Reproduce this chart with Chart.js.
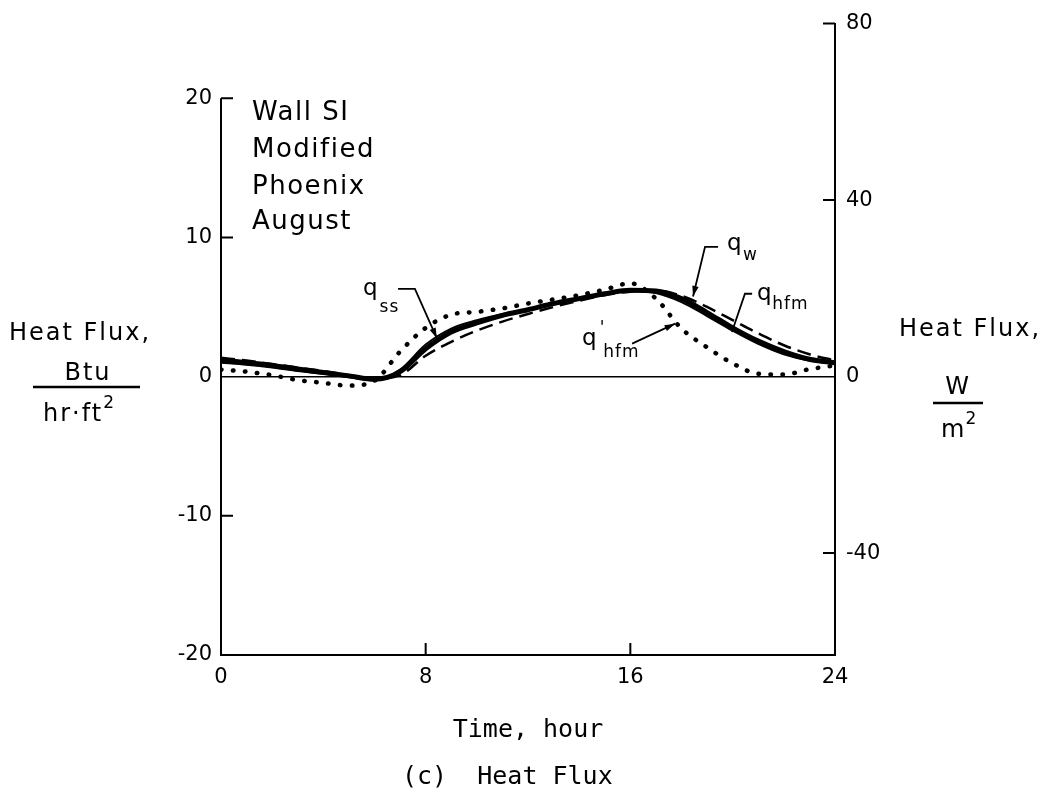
<!DOCTYPE html>
<html lang="en">
<head>
<meta charset="UTF-8">
<title>Heat Flux</title>
<script src="https://cdn.jsdelivr.net/npm/chart.js@4.4.1/dist/chart.umd.min.js"></script>
<style>
  html, body { margin: 0; padding: 0; background: #fff; }
</style>
</head>
<body>
<canvas id="heat-chart" width="1054" height="808"></canvas>

<script>
// time of day, hour
const hours = [0, 1, 2, 3, 4, 5, 6, 7, 8, 9, 10, 11, 12, 13, 14, 15, 16, 17, 18, 19, 20, 21, 22, 23, 24];

// heat flux, Btu/hr.ft2
const qW        = [1.2, 1.0, 0.8, 0.55, 0.3, 0.05, -0.2, 0.35, 2.0, 3.2, 3.85, 4.4, 4.8, 5.25, 5.6, 5.95, 6.2, 6.15, 5.6, 4.6, 3.5, 2.55, 1.8, 1.25, 1.0];
const qSs       = [1.0, 0.85, 0.65, 0.4, 0.2, -0.05, -0.25, 0.5, 2.3, 3.45, 4.05, 4.5, 4.85, 5.2, 5.55, 5.9, 6.15, 6.0, 5.35, 4.35, 3.3, 2.35, 1.6, 1.15, 0.95];
const qHfm      = [1.35, 1.15, 0.9, 0.65, 0.4, 0.1, -0.15, 0.1, 1.5, 2.5, 3.3, 3.95, 4.5, 5.0, 5.45, 5.85, 6.1, 6.2, 5.8, 5.0, 4.05, 3.1, 2.25, 1.6, 1.15];
const qHfmPrime = [0.5, 0.35, 0.1, -0.25, -0.45, -0.65, -0.3, 1.8, 3.5, 4.45, 4.65, 4.9, 5.25, 5.55, 5.85, 6.25, 6.7, 5.6, 3.45, 2.1, 0.95, 0.2, 0.15, 0.53, 0.8];

const leftTicks  = [-20, -10, 0, 10, 20];   // Btu/hr.ft2
const rightTicks = [-40, 0, 40, 80];        // W/m2
const timeTicks  = [0, 8, 16, 24];

const BTU_TO_W = 3.155;
const topW = 80;

const FONT = '"DejaVu Sans", sans-serif';
const MONO = '"DejaVu Sans Mono", monospace';

function series(vals) {
  return hours.map((h, i) => ({ x: h, y: vals[i] }));
}

function px(chart, t, v) {
  return [chart.scales.x.getPixelForValue(t), chart.scales.y.getPixelForValue(v)];
}

// draws text, returns its right edge
function txt(ctx, s, x, y, size, align, family, spacing) {
  ctx.font = size + 'px ' + (family || FONT);
  ctx.textAlign = align || 'left';
  ctx.textBaseline = 'alphabetic';
  ctx.letterSpacing = (spacing || 0) + 'px';
  ctx.fillText(s, x, y);
  const w = ctx.measureText(s).width;
  ctx.letterSpacing = '0px';
  if (align === 'center') return x + w / 2;
  if (align === 'right') return x;
  return x + w;
}

function leader(ctx, pts, arrow) {
  ctx.beginPath();
  ctx.moveTo(pts[0][0], pts[0][1]);
  for (let i = 1; i < pts.length; i++) ctx.lineTo(pts[i][0], pts[i][1]);
  ctx.stroke();
  if (arrow) {
    const a = pts[pts.length - 2], b = pts[pts.length - 1];
    const ang = Math.atan2(b[1] - a[1], b[0] - a[0]);
    ctx.beginPath();
    ctx.moveTo(b[0], b[1]);
    ctx.lineTo(b[0] - 11 * Math.cos(ang - 0.3), b[1] - 11 * Math.sin(ang - 0.3));
    ctx.lineTo(b[0] - 11 * Math.cos(ang + 0.3), b[1] - 11 * Math.sin(ang + 0.3));
    ctx.closePath();
    ctx.fill();
  }
}

const extras = {
  id: 'extras',
  afterDraw(chart) {
    const ctx = chart.ctx;
    const a = chart.chartArea;
    const sx = chart.scales.x, sy = chart.scales.y, sy2 = chart.scales.y2;
    ctx.save();
    ctx.strokeStyle = '#000';
    ctx.fillStyle = '#000';

    // left axis only runs up to 20
    ctx.lineWidth = 2;
    ctx.beginPath();
    ctx.moveTo(a.left, sy.getPixelForValue(-20));
    ctx.lineTo(a.left, sy.getPixelForValue(20));
    ctx.stroke();

    // inward tick marks
    const tl = 12;
    ctx.beginPath();
    [-10, 10, 20].forEach(v => {
      const y = sy.getPixelForValue(v);
      ctx.moveTo(a.left, y); ctx.lineTo(a.left + tl, y);
    });
    [-40, 40, 80].forEach(v => {
      const y = sy2.getPixelForValue(v);
      ctx.moveTo(a.right, y); ctx.lineTo(a.right - tl, y);
    });
    [8, 16].forEach(t => {
      const x = sx.getPixelForValue(t);
      ctx.moveTo(x, a.bottom); ctx.lineTo(x, a.bottom - tl);
    });
    ctx.stroke();

    // case label inside the plot
    const lx = a.left + 31;
    txt(ctx, 'Wall SI', lx, 120, 26, 'left', FONT, 1.5);
    txt(ctx, 'Modified', lx, 157, 26, 'left', FONT, 1.5);
    txt(ctx, 'Phoenix', lx, 194, 26, 'left', FONT, 1.5);
    txt(ctx, 'August', lx, 229, 26, 'left', FONT, 1.5);

    // curve labels with leaders
    ctx.lineWidth = 1.8;
    let p;
    // q_ss
    p = px(chart, 5.55, 5.88); txt(ctx, 'q', p[0], p[1], 23, 'left', FONT);
    p = px(chart, 6.2, 4.66);  txt(ctx, 'ss', p[0], p[1], 17, 'left', FONT, 1);
    leader(ctx, [px(chart, 6.92, 6.3), px(chart, 7.58, 6.3), px(chart, 8.44, 2.75)], true);
    // q_w
    p = px(chart, 19.78, 9.1); txt(ctx, 'q', p[0], p[1], 23, 'left', FONT);
    p = px(chart, 20.4, 8.39); txt(ctx, 'w', p[0], p[1], 17, 'left', FONT);
    leader(ctx, [px(chart, 19.43, 9.32), px(chart, 18.92, 9.32), px(chart, 18.45, 5.75)], true);
    // q_hfm
    p = px(chart, 20.95, 5.52); txt(ctx, 'q', p[0], p[1], 23, 'left', FONT);
    p = px(chart, 21.55, 4.87); txt(ctx, 'hfm', p[0], p[1], 17, 'left', FONT, 1);
    leader(ctx, [px(chart, 20.76, 5.95), px(chart, 20.48, 5.95), px(chart, 19.97, 3.2)], false);
    // q'_hfm
    p = px(chart, 14.11, 2.29); txt(ctx, 'q', p[0], p[1], 23, 'left', FONT);
    p = px(chart, 14.8, 3.1);   txt(ctx, "'", p[0], p[1], 17, 'left', FONT);
    p = px(chart, 14.94, 1.43); txt(ctx, 'hfm', p[0], p[1], 17, 'left', FONT, 1);
    leader(ctx, [px(chart, 16.07, 2.37), px(chart, 17.75, 3.8)], true);

    // left axis title
    txt(ctx, 'Heat Flux,', 80, 340, 24, 'center', FONT, 2);
    txt(ctx, 'Btu', 88, 380, 24, 'center', FONT, 2);
    ctx.lineWidth = 2.5;
    ctx.beginPath(); ctx.moveTo(33, 387); ctx.lineTo(140, 387); ctx.stroke();
    let r = txt(ctx, 'hr\u00b7ft', 43, 421, 24, 'left', FONT, 2);
    txt(ctx, '2', r, 408, 17, 'left', FONT);

    // right axis title
    txt(ctx, 'Heat Flux,', 970, 336, 24, 'center', FONT, 2);
    txt(ctx, 'W', 958, 394, 24, 'center', FONT, 2);
    ctx.beginPath(); ctx.moveTo(933, 403); ctx.lineTo(983, 403); ctx.stroke();
    r = txt(ctx, 'm', 941, 437, 24, 'left', FONT, 1);
    txt(ctx, '2', r, 424, 17, 'left', FONT);

    // x title and caption
    txt(ctx, 'Time, hour', (a.left + a.right) / 2, 737, 25, 'center', MONO);
    txt(ctx, '(c)  Heat Flux', 402, 784, 25, 'left', MONO);

    ctx.restore();
  }
};

new Chart(document.getElementById('heat-chart'), {
  type: 'line',
  data: {
    datasets: [
      { label: 'q_w', data: series(qW), borderColor: '#000', borderWidth: 5 },
      { label: 'q_ss', data: series(qSs), borderColor: '#000', borderWidth: 2 },
      { label: 'q_hfm', data: series(qHfm), borderColor: '#000', borderWidth: 2.5, borderDash: [14, 7] },
      { label: "q'_hfm", data: series(qHfmPrime), borderColor: '#000', borderWidth: 4.5,
        borderDash: [0.5, 11.5], borderCapStyle: 'round' }
    ]
  },
  options: {
    responsive: false,
    animation: false,
    layout: { padding: { top: 22, left: 0, right: 0, bottom: 0 } },
    elements: {
      point: { radius: 0 },
      line: { cubicInterpolationMode: 'monotone', fill: false }
    },
    plugins: { legend: { display: false }, tooltip: { enabled: false } },
    scales: {
      x: {
        type: 'linear', min: 0, max: 24,
        afterBuildTicks: s => { s.ticks = timeTicks.map(v => ({ value: v })); },
        afterFit: s => { s.height = 153; },
        grid: { display: false, drawTicks: false },
        border: { display: true, color: '#000', width: 2 },
        ticks: { color: '#000', padding: 10, maxRotation: 0, font: { family: FONT, size: 21 } }
      },
      y: {
        position: 'left',
        min: -20, max: topW / BTU_TO_W,
        afterBuildTicks: s => { s.ticks = leftTicks.map(v => ({ value: v })); },
        afterFit: s => { s.width = 221; },
        grid: {
          drawTicks: false,
          color: c => (c.tick && c.tick.value === 0 ? '#000' : 'rgba(0,0,0,0)'),
          lineWidth: 1.5
        },
        border: { display: false },
        ticks: { color: '#000', padding: 9, font: { family: FONT, size: 21 } }
      },
      y2: {
        position: 'right',
        min: -20 * BTU_TO_W, max: topW,
        afterBuildTicks: s => { s.ticks = rightTicks.map(v => ({ value: v })); },
        afterFit: s => { s.width = 219; },
        grid: { display: false, drawTicks: false },
        border: { display: true, color: '#000', width: 2 },
        ticks: { color: '#000', padding: 11, font: { family: FONT, size: 21 } }
      }
    }
  },
  plugins: [extras]
});
</script>
</body>
</html>
